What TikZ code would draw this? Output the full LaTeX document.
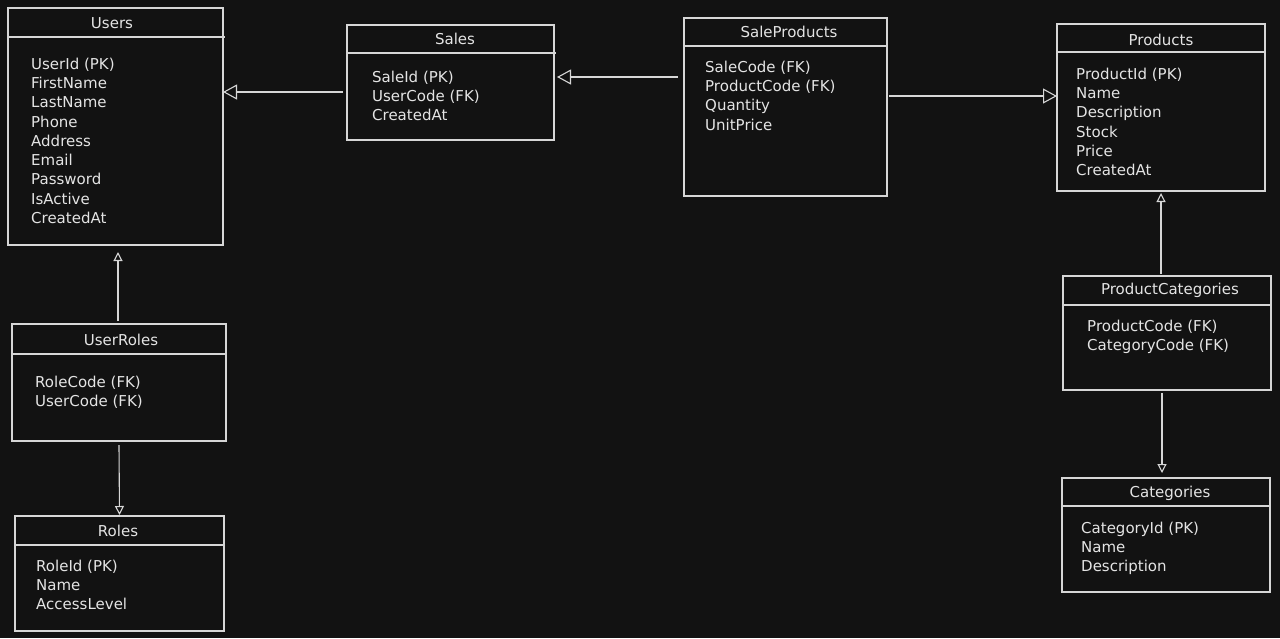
\documentclass[tikz,border=0pt]{standalone}
\usepackage{fontspec}
\setmainfont{DejaVu Sans}
\usetikzlibrary{arrows.meta}
\definecolor{bg}{HTML}{121212}
\definecolor{fg}{HTML}{D6D6D6}
\definecolor{txt}{HTML}{E4E4E4}
\tikzset{
  tbl/.style={draw=fg, line width=1.1pt, inner sep=0pt, outer sep=0pt, rectangle},
  sep/.style={draw=fg, line width=1.1pt},
  ttl/.style={text=txt, inner sep=0pt, font=\fontsize{15}{17}\selectfont},
  attrs/.style={text=txt, inner sep=0pt, anchor=north west, align=left, font=\fontsize{15}{19.3}\selectfont},
  conn/.style={draw=fg, line width=1.1pt},
  bigarr/.style={conn, -{Triangle[open, length=14pt, width=15pt, line width=1.1pt]}},
  smallarr/.style={conn, -{Triangle[open, length=9pt, width=9pt, line width=1.1pt]}}
}
\begin{document}
\begin{tikzpicture}[x=1pt,y=-1pt]
\fill[bg] (0,0) rectangle (1280,638);
\useasboundingbox (0,0) rectangle (1280,638);

% Users
\node[tbl, minimum width=215pt, minimum height=237pt] (users) at (115.5,126.5) {};
\draw[sep] (8,37) -- (225,37);
\node[ttl] (usersT) at (112,23) {Users};
\node[attrs] (usersA) at (31,57.5) {UserId (PK)\\FirstName\\LastName\\Phone\\Address\\Email\\Password\\IsActive\\CreatedAt};

% Sales
\node[tbl, minimum width=207pt, minimum height=115pt] (sales) at (450.5,82.5) {};
\draw[sep] (347,53) -- (556,53);
\node[ttl] (salesT) at (455,39) {Sales};
\node[attrs] (salesA) at (372,70.5) {SaleId (PK)\\UserCode (FK)\\CreatedAt};

% SaleProducts
\node[tbl, minimum width=203pt, minimum height=178pt] (sp) at (785.5,107) {};
\draw[sep] (684,46) -- (887,46);
\node[ttl] (spT) at (789,32) {SaleProducts};
\node[attrs] (spA) at (705,60.5) {SaleCode (FK)\\ProductCode (FK)\\Quantity\\UnitPrice};

% Products
\node[tbl, minimum width=208pt, minimum height=167pt] (products) at (1161,107.5) {};
\draw[sep] (1057,52) -- (1265,52);
\node[ttl] (productsT) at (1161,40) {Products};
\node[attrs] (productsA) at (1076,67.5) {ProductId (PK)\\Name\\Description\\Stock\\Price\\CreatedAt};

% ProductCategories
\node[tbl, minimum width=208pt, minimum height=114pt] (pc) at (1167,333) {};
\draw[sep] (1063,305) -- (1272,305);
\node[ttl] (pcT) at (1170,290) {ProductCategories};
\node[attrs] (pcA) at (1087,319.5) {ProductCode (FK)\\CategoryCode (FK)};

% Categories
\node[tbl, minimum width=208pt, minimum height=114pt] (cat) at (1166,535) {};
\draw[sep] (1062,506) -- (1270,506);
\node[ttl] (catT) at (1170,493) {Categories};
\node[attrs] (catA) at (1081,521.5) {CategoryId (PK)\\Name\\Description};

% UserRoles
\node[tbl, minimum width=214pt, minimum height=117pt] (ur) at (119,382.5) {};
\draw[sep] (12,354) -- (226,354);
\node[ttl] (urT) at (121,340) {UserRoles};
\node[attrs] (urA) at (35,375.5) {RoleCode (FK)\\UserCode (FK)};

% Roles
\node[tbl, minimum width=209pt, minimum height=115pt] (roles) at (119.5,573.5) {};
\draw[sep] (15,545) -- (225,545);
\node[ttl] (rolesT) at (118,531) {Roles};
\node[attrs] (rolesA) at (36,559.5) {RoleId (PK)\\Name\\AccessLevel};

% Connectors
\draw[bigarr] ([xshift=-4pt,yshift=-9.5pt]sales.west) -- ([yshift=-9.5pt]sales.west -| users.east);
\draw[bigarr] ([xshift=-6pt,yshift=30pt]sp.west) -- ([xshift=3pt,yshift=30pt]sp.west -| sales.east);
\draw[bigarr] ([xshift=2pt,yshift=11pt]sp.east) -- ([yshift=11pt]sp.east -| products.west);
\draw[smallarr] ([yshift=2pt]pc.north -| products.south) -- ([yshift=-2pt]products.south);
\draw[smallarr] ([xshift=-5pt,yshift=-3pt]pc.south) -- ([xshift=-4pt,yshift=5pt]cat.north);
\draw[smallarr] ([xshift=-1pt,yshift=3pt]ur.north) -- ([xshift=2.5pt,yshift=-7pt]users.south);
\draw[smallarr] ([yshift=-4pt]ur.south) -- ([yshift=1pt]roles.north);
\end{tikzpicture}
\end{document}
